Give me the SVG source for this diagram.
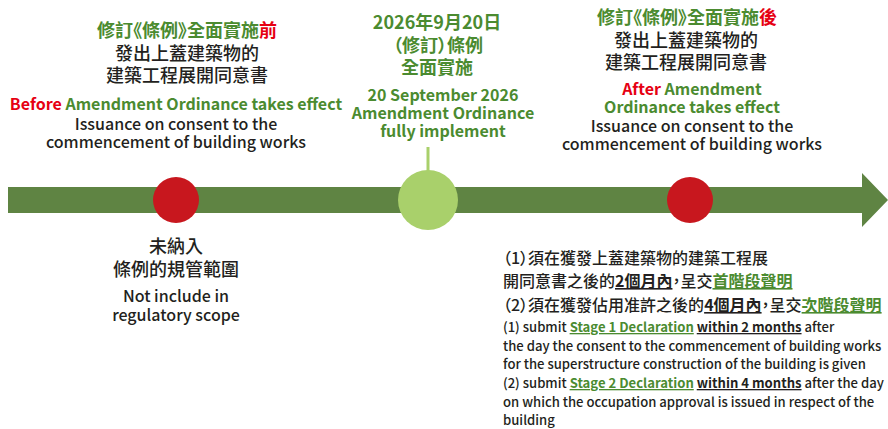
<svg xmlns="http://www.w3.org/2000/svg" width="888" height="429" viewBox="0 0 888 429">
<style>
text{font-family:"Noto Sans CJK TC","Noto Sans",sans-serif;fill:#231f20;font-feature-settings:"palt";}
.zh{font-size:18px;font-weight:500;}
.en{font-size:16px;font-weight:500;}
.g{fill:#4b8b30;font-weight:700;}
.r{fill:#e60012;font-weight:700;}
.m{text-anchor:middle;}
.b{font-weight:700;}
.u{text-decoration:underline;}
.zs{font-size:16px;font-weight:500;}
.es{font-size:13.1px;font-weight:500;}
</style>
<g id="connectors">
  <path d="M8 187 H862 V173 L888 200 L862 227 V213 H8 Z" fill="#5f8443"/>
  <line x1="428" y1="147" x2="428" y2="172" stroke="#a9d06b" stroke-width="3"/>
</g>
<g id="node-before">
  <circle cx="176" cy="200" r="23" fill="#c8171e"/>
  <text class="zh m g" x="187" y="37">修訂《條例》全面實施<tspan class="r">前</tspan></text>
  <text class="zh m" x="187" y="60">發出上蓋建築物的</text>
  <text class="zh m" x="187" y="82">建築工程展開同意書</text>
  <text class="en m g" x="176" y="110"><tspan class="r">Before</tspan> Amendment Ordinance takes effect</text>
  <text class="en m" x="176" y="130">Issuance on consent to the</text>
  <text class="en m" x="176" y="148">commencement of building works</text>
</g>
<g id="node-milestone">
  <circle cx="428" cy="200" r="30" fill="#a9d06b"/>
  <text class="zh m g" x="437" y="29">2026年9月20日</text>
  <text class="zh m g" x="438" y="52">（修訂）條例</text>
  <text class="zh m g" x="437" y="74">全面實施</text>
  <text class="en m g" x="443" y="101">20 September 2026</text>
  <text class="en m g" x="443" y="119">Amendment Ordinance</text>
  <text class="en m g" x="443" y="137">fully implement</text>
</g>
<g id="node-after">
  <circle cx="690" cy="200" r="23" fill="#c8171e"/>
  <text class="zh m g" x="687" y="24">修訂《條例》全面實施<tspan class="r">後</tspan></text>
  <text class="zh m" x="686" y="47">發出上蓋建築物的</text>
  <text class="zh m" x="686" y="69">建築工程展開同意書</text>
  <text class="en m g" x="692" y="95"><tspan class="r">After</tspan> Amendment</text>
  <text class="en m g" x="692" y="113">Ordinance takes effect</text>
  <text class="en m" x="692" y="132">Issuance on consent to the</text>
  <text class="en m" x="692" y="150">commencement of building works</text>
</g>
<g id="node-not-included">
  <text class="zh m" x="176" y="253">未納入</text>
  <text class="zh m" x="176" y="276">條例的規管範圍</text>
  <text class="en m" x="176" y="302">Not include in</text>
  <text class="en m" x="176" y="321">regulatory scope</text>
</g>
<g id="node-requirements">
  <text class="zs" x="503" y="264">（1）須在獲發上蓋建築物的建築工程展</text>
  <text class="zs" x="503" y="287">開同意書之後的<tspan class="b u">2個月內</tspan>，呈交<tspan class="g u">首階段聲明</tspan></text>
  <text class="zs" x="503" y="311">（2）須在獲發佔用准許之後的<tspan class="b u">4個月內</tspan>，呈交<tspan class="g u">次階段聲明</tspan></text>
  <text class="es" x="503" y="332">(1) submit <tspan class="g u">Stage 1 Declaration</tspan> <tspan class="b u">within 2 months</tspan> after</text>
  <text class="es" x="503" y="351">the day the consent to the commencement of building works</text>
  <text class="es" x="503" y="369">for the superstructure construction of the building is given</text>
  <text class="es" x="503" y="388">(2) submit <tspan class="g u">Stage 2 Declaration</tspan> <tspan class="b u">within 4 months</tspan> after the day</text>
  <text class="es" x="503" y="407">on which the occupation approval is issued in respect of the</text>
  <text class="es" x="503" y="425">building</text>
</g>
</svg>
